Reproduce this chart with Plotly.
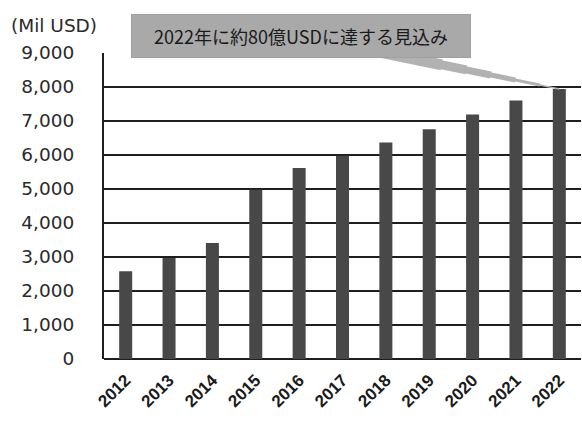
import plotly.graph_objects as go

years = ["2012", "2013", "2014", "2015", "2016", "2017", "2018", "2019", "2020", "2021", "2022"]
values = [2580, 2970, 3410, 4980, 5620, 5980, 6370, 6760, 7190, 7600, 7940]
y_ticks = [0, 1000, 2000, 3000, 4000, 5000, 6000, 7000, 8000, 9000]
y_tick_text = ["0", "1,000", "2,000", "3,000", "4,000", "5,000", "6,000", "7,000", "8,000", "9,000"]
unit_label = "(Mil USD)"
callout_text = "2022年に約80億USDに達する見込み"

fig = go.Figure()
fig.add_trace(go.Bar(x=years, y=values, marker=dict(color="#484848", line=dict(width=0)), width=0.3))

fig.update_layout(
    width=582, height=421,
    margin=dict(l=104, r=1, t=53, b=62, autoexpand=False),
    paper_bgcolor="white", plot_bgcolor="white",
    showlegend=False,
    font=dict(family="DejaVu Sans", color="#2a2a2a"),
    xaxis=dict(
        type="category", range=[-0.5, len(years) - 0.5],
        tickangle=-45, showgrid=False, showline=False, automargin=False,
        tickfont=dict(family="Liberation Sans", size=17, color="#1a1a1a", weight="bold"),
        ticks="", ticklabelstandoff=7,
    ),
    yaxis=dict(
        range=[0, 9000], tickvals=y_ticks, ticktext=y_tick_text, automargin=False,
        showgrid=True, gridcolor="#1e1e1e", gridwidth=2,
        zeroline=True, zerolinecolor="#1e1e1e", zerolinewidth=2,
        showline=True, linecolor="#1e1e1e", linewidth=2,
        tickfont=dict(family="DejaVu Sans", size=18.5, color="#2a2a2a"),
        ticks="", ticklabelstandoff=24,
    ),
)

fig.add_annotation(
    text=unit_label, xref="paper", yref="paper", x=-0.2, y=1.0, yshift=15,
    xanchor="left", yanchor="bottom", showarrow=False,
    font=dict(family="DejaVu Sans", size=18.5, color="#2a2a2a"),
)

# tapered callout tail (drawn first so the box covers the start)
for w, so in [(11, 120), (9, 95), (7, 70), (5, 45), (3, 20), (1.5, 0)]:
    fig.add_annotation(
        text=" ", x=len(years) - 1, y=values[-1], xref="x", yref="y",
        showarrow=True, arrowhead=0, arrowwidth=w, arrowcolor="#b2b2b2",
        ax=-258, ay=-53, standoff=so, font=dict(size=2),
    )

fig.add_annotation(
    text=callout_text, x=len(years) - 1, y=values[-1], xref="x", yref="y",
    showarrow=True, arrowhead=0, arrowwidth=1, arrowcolor="rgba(0,0,0,0)",
    ax=-258, ay=-53, standoff=0,
    bgcolor="#a9a9a9", bordercolor="#a0a0a0", borderwidth=1, borderpad=8,
    font=dict(family="Noto Sans CJK JP", size=18, color="#1a1a1a"),
    width=322,
)

fig.write_html("out.html")
